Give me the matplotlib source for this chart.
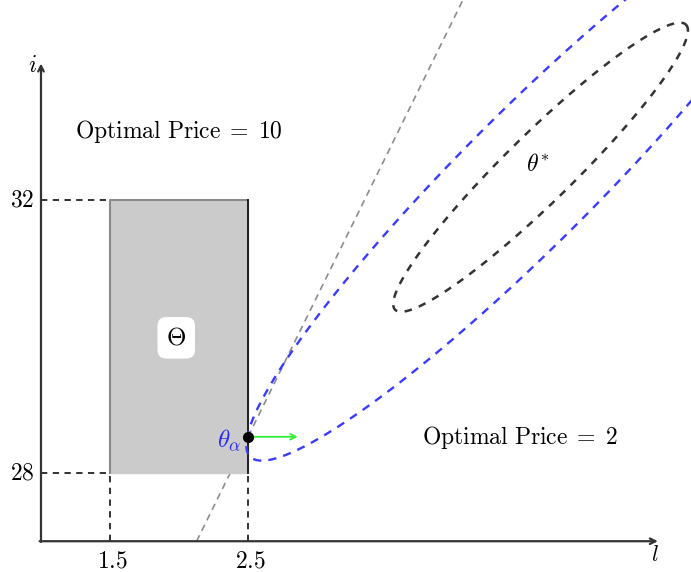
import numpy as np
import matplotlib.pyplot as plt

plt.rcParams['mathtext.fontset'] = 'cm'

# axis ranges of the drawing
l_axis = [1.0, 5.47]
i_axis = [27.0, 34.0]

# price region Theta
rect_l = [1.5, 2.5]
rect_i = [28.0, 32.0]
tick_l = [1.5, 2.5]
tick_i = [28, 32]

# points
theta_alpha = [2.5, 28.53]
theta_star = [4.62, 32.48]
arrow_end_l = 2.86
gray_slope = 4.11

# confidence ellipses: center, major half-axis, minor half-axis (data units)
black_center = [4.62, 32.48]
black_major = [1.054, 2.088]
black_minor = [0.172, -0.356]
blue_center = [4.54, 32.33]
blue_major = [2.024, 4.092]
blue_minor = [0.341, -0.689]

fig = plt.figure(figsize=(6.91, 5.72), dpi=100)
ax = fig.add_axes([0, 0, 1, 1])
ax.set_xlim(0.703, 5.710)
ax.set_ylim(26.549, 34.930)
ax.axis('off')

# gray line through theta_alpha
gl = np.array([i_axis[0], 35.5])
ax.plot(theta_alpha[0] + (gl - theta_alpha[1]) / gray_slope, gl,
        ls=(0, (4, 3)), color='#8c8c8c', lw=1.2, zorder=1)

# rectangle
ax.fill_between(rect_l, rect_i[0], rect_i[1], color='#cbcbcb', zorder=2)
ax.plot([rect_l[0], rect_l[0], rect_l[1]], [rect_i[0], rect_i[1], rect_i[1]],
        color='#8a8a8a', lw=1.5, zorder=3)
ax.plot([rect_l[1], rect_l[1]], rect_i, color='#111111', lw=1.3, zorder=3)

# dashed guides
dash = (0, (3.5, 3))
for y in tick_i:
    ax.plot([l_axis[0], rect_l[0]], [y, y], color='#222222', lw=1.3, ls=dash, zorder=3)
for x in tick_l:
    ax.plot([x, x], [i_axis[0], rect_i[0]], color='#222222', lw=1.3, ls=dash, zorder=3)

# ellipses
phi = np.linspace(0, 2 * np.pi, 600)
def ellipse(c, a, b):
    x = c[0] + np.cos(phi) * a[0] + np.sin(phi) * b[0]
    y = c[1] + np.cos(phi) * a[1] + np.sin(phi) * b[1]
    return x, y

bx, by = ellipse(black_center, black_major, black_minor)
ax.plot(bx, by, color='#333333', lw=1.8, ls=(0, (3, 3)), zorder=4)
ux, uy = ellipse(blue_center, blue_major, blue_minor)
ax.plot(ux, uy, color='#3b3bff', lw=1.7, ls=(0, (3.5, 3)), zorder=4)

# axes with arrows
ax.annotate('', xy=(l_axis[0], i_axis[1]), xytext=(l_axis[0], i_axis[0] - 0.01),
            arrowprops=dict(arrowstyle='->', lw=1.6, color='#333333',
                            shrinkA=0, shrinkB=0), zorder=5)
ax.annotate('', xy=(l_axis[1], i_axis[0]), xytext=(l_axis[0] - 0.01, i_axis[0]),
            arrowprops=dict(arrowstyle='->', lw=1.6, color='#333333',
                            shrinkA=0, shrinkB=0), zorder=5)

# green arrow and point
ax.annotate('', xy=(arrow_end_l, theta_alpha[1]), xytext=tuple(theta_alpha),
            arrowprops=dict(arrowstyle='->', lw=1.3, color='#33ee33',
                            shrinkA=0, shrinkB=0), zorder=6)
ax.plot(*theta_alpha, 'o', color='black', ms=7, zorder=7)

fs = 17
ax.text(l_axis[0] - 0.03, i_axis[1] - 0.02, r'$i$', fontsize=fs, ha='right', va='center')
ax.text(l_axis[1] - 0.02, i_axis[0] - 0.06, r'$l$', fontsize=fs - 1, ha='center', va='top')
for y in tick_i:
    ax.text(l_axis[0] - 0.05, y, r'$%d$' % y, fontsize=fs, ha='right', va='center')
for x in tick_l:
    ax.text(x + 0.02, i_axis[0] - 0.1, r'$%.1f$' % x, fontsize=fs, ha='center', va='top')

ax.text(2.0, 33.0, r'$\mathrm{Optimal\ Price}\;=\;10$', fontsize=fs, ha='center', va='center')
ax.text(4.47, 28.52, r'$\mathrm{Optimal\ Price}\;=\;2$', fontsize=fs, ha='center', va='center')
ax.text(1.98, 29.98, r'$\mathbf{\Theta}$', fontsize=fs + 1, ha='center', va='center',
        bbox=dict(boxstyle='round,pad=0.35', fc='white', ec='none'), zorder=6)
ax.text(2.45, 28.48, r'$\theta_\alpha$', fontsize=fs + 1, color='#2a2aff',
        ha='right', va='center', zorder=6)
ax.text(theta_star[0] - 0.02, theta_star[1] + 0.05, r'$\theta^{*}$', fontsize=fs,
        ha='center', va='center')

fig.savefig('out.png', dpi=100)
